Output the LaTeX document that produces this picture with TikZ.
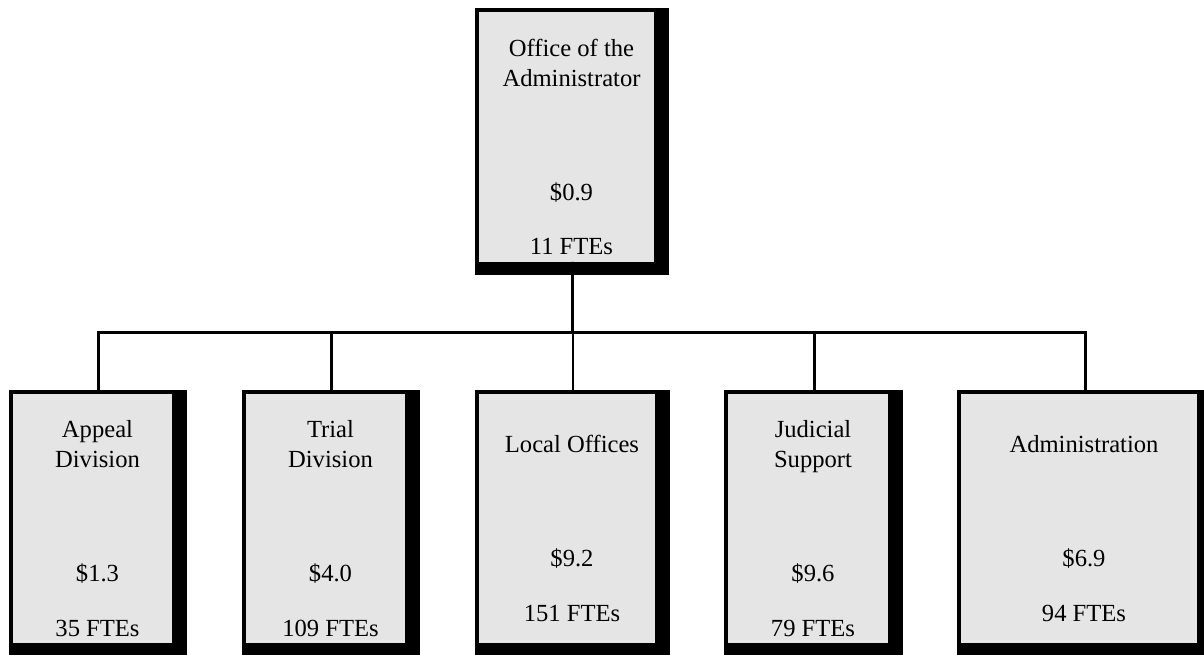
\documentclass[tikz,border=0pt]{standalone}
\usepackage{fontspec}
\setmainfont{Liberation Serif}
\usetikzlibrary{positioning,backgrounds}
\definecolor{bc}{RGB}{229,229,229}
\tikzset{unit/.style={fill=bc,inner sep=0pt,outer sep=0pt,minimum height=4.98cm},
 lbl/.style={align=center,inner sep=0pt,font=\fontsize{14}{17}\selectfont},
 wire/.style={line width=1.7pt}}

\begin{document}
\begin{tikzpicture}[x=.02cm,y=-.02cm]
\useasboundingbox (0,0) rectangle (1204,654);
\node[unit,minimum width=3.5cm,minimum height=5cm] (ofc) at (566.5,137) {};
\node[unit,minimum width=3.18cm] (app) at (92.5,518.5) {};
\node[unit,minimum width=3.18cm] (tri) at (325.5,518.5) {};
\node[unit,minimum width=3.52cm] (loc) at (567,518.5) {};
\node[unit,minimum width=3.2cm] (jud) at (808,518.5) {};
\node[unit,minimum width=4.72cm] (admn) at (1079,518.5) {};
% heavy frames
\begin{scope}[on background layer]
\foreach \b in {ofc,app,tri,loc,jud,admn}
  \fill ([shift={(-4,-4)}]\b.north west) rectangle ([shift={(15,13)}]\b.south east);
\end{scope}
% texts
\node[lbl] (ofcl) at ([shift={(5,10)}]ofc.center) {Office of the\\Administrator\\[48pt]\$0.9\\[14pt]11 FTEs};
\node[lbl] (appl) at ([shift={(5,10)}]app.center) {Appeal\\Division\\[48pt]\$1.3\\[14pt]35 FTEs};
\node[lbl] (tril) at ([shift={(5,10)}]tri.center) {Trial\\Division\\[48pt]\$4.0\\[14pt]109 FTEs};
\node[lbl] (locl) at ([shift={(5,10)}]loc.center) {Local Offices\\[48pt]\$9.2\\[14pt]151 FTEs};
\node[lbl] (judl) at ([shift={(5,10)}]jud.center) {Judicial\\Support\\[48pt]\$9.6\\[14pt]79 FTEs};
\node[lbl] (admnl) at ([shift={(5,10)}]admn.center) {Administration\\[48pt]\$6.9\\[14pt]94 FTEs};
% tree lines
\coordinate (bar) at (572.5,332);
\draw[wire] ([xshift=.12cm]ofc.south) -- (bar);
\draw[wire] ([xshift=.12cm]app.north) |- (bar) -| ([xshift=.12cm]admn.north);
\foreach \b in {tri,loc,jud} \draw[wire] ([xshift=.12cm]\b.north) -- ([xshift=.12cm]\b.north |- bar);
\end{tikzpicture}
\end{document}
